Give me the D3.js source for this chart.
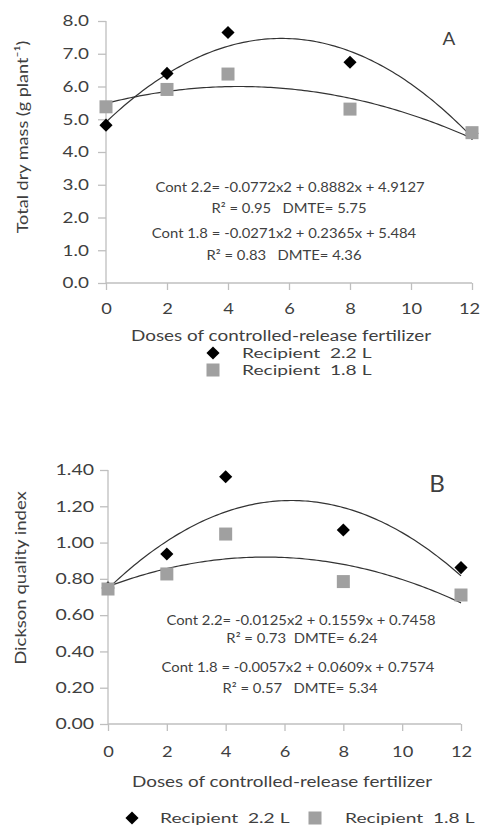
<!DOCTYPE html>
<html><head><meta charset="utf-8">
<script src="https://cdn.jsdelivr.net/npm/d3@7"></script>
<style>body{margin:0;background:#fff}svg{display:block}text{font-family:Lato,"Open Sans",sans-serif;fill:#3f3f3f;white-space:pre}</style>
</head><body>
<svg id="c" width="481" height="827"></svg>
<script>
const doses = [0, 2, 4, 8, 12];
const xTicks = [0, 2, 4, 6, 8, 10, 12];
// Panel A: total dry mass
const massRec22 = [4.82, 6.40, 7.65, 6.74, 4.57];
const massRec18 = [5.38, 5.91, 6.38, 5.31, 4.59];
const massTicks = [0, 1, 2, 3, 4, 5, 6, 7, 8];
const massCoef22 = [-0.0772, 0.8882, 4.9127];
const massCoef18 = [-0.0271, 0.2365, 5.484];
const massLabels = ["Cont 2.2= -0.0772x2 + 0.8882x + 4.9127", "R\u00b2 = 0.95   DMTE= 5.75",
                    "Cont 1.8 = -0.0271x2 + 0.2365x + 5.484", "R\u00b2 = 0.83   DMTE= 4.36"];
// Panel B: Dickson quality index
const dqiRec22 = [0.75, 0.937, 1.363, 1.069, 0.862];
const dqiRec18 = [0.744, 0.827, 1.047, 0.785, 0.711];
const dqiTicks = [0, 0.2, 0.4, 0.6, 0.8, 1.0, 1.2, 1.4];
const dqiCoef22 = [-0.0125, 0.1559, 0.7458];
const dqiCoef18 = [-0.0057, 0.0609, 0.7574];
const dqiLabels = ["Cont 2.2= -0.0125x2 + 0.1559x + 0.7458", "R\u00b2 = 0.73  DMTE= 6.24",
                   "Cont 1.8 = -0.0057x2 + 0.0609x + 0.7574", "R\u00b2 = 0.57   DMTE= 5.34"];
const seriesNames = ["Recipient  2.2 L", "Recipient  1.8 L"];

const svg = d3.select("#c");
const AX = "#bfbfbf", CURVE = "#333", GRAY = "#a0a0a0";
const diamond = d3.symbol().type(d3.symbolDiamond2 || d3.symbolDiamond).size(110);

function txt(g, x, y, s, size, sx, anchor, rot) {
  return g.append("text")
    .attr("transform", `translate(${x},${y})${rot ? " rotate(-90)" : ""} scale(${sx},1)`)
    .attr("text-anchor", anchor || "middle").style("font-size", size + "px").text(s);
}

function panel(o) {
  const x = d3.scaleLinear().domain([0, 12]).range([o.x0, o.x1]);
  const y = d3.scaleLinear().domain([0, o.ymax]).range([o.y0, o.y1]);
  const g = svg.append("g");
  // y axis
  const ya = g.append("g").attr("transform", `translate(${o.x0},0)`)
    .call(d3.axisLeft(y).tickValues(o.yTicks).tickFormat(d3.format(o.fmt)).tickSize(8));
  ya.selectAll("path,line").attr("stroke", AX).attr("stroke-width", 1.3);
  ya.select(".domain").attr("d", `M-0,${o.y0}V${o.y1}`);
  ya.selectAll("text").attr("x", 0).attr("transform", `translate(${-o.ypad},0) scale(${o.ysx},1)`)
    .style("font-size", "15px").attr("fill", "#3f3f3f").style("font-family", "Lato,sans-serif");
  // x axis
  const xa = g.append("g").attr("transform", `translate(0,${o.y0})`)
    .call(d3.axisBottom(x).tickValues(xTicks).tickFormat(d3.format("d")).tickSize(7).tickPadding(o.xpad));
  xa.selectAll("path,line").attr("stroke", AX).attr("stroke-width", 1.3);
  xa.select(".domain").attr("d", `M${o.x0},0H${o.x1}`);
  xa.selectAll("text").attr("transform", (d, i, n) => `translate(${i === n.length - 1 ? o.lastShift : 0},0) scale(1.22,1)`)
    .style("font-size", "15px").attr("fill", "#3f3f3f").style("font-family", "Lato,sans-serif");
  // trend curves from the fitted equations
  const line = d3.line().x(d => x(d[0])).y(d => y(d[1]));
  [o.c22, o.c18].forEach(c => {
    const pts = d3.range(0, 12.001, 0.1).map(t => [t, c[0] * t * t + c[1] * t + c[2]]);
    g.append("path").attr("d", line(pts)).attr("fill", "none").attr("stroke", CURVE).attr("stroke-width", 1.2);
  });
  // points
  g.selectAll(".d").data(o.s22).join("path").attr("d", diamond)
    .attr("transform", (d, i) => `translate(${x(doses[i])},${y(d)})`).attr("fill", "#000");
  g.selectAll(".s").data(o.s18).join("rect")
    .attr("x", (d, i) => x(doses[i]) - 6.5).attr("y", d => y(d) - 6.5)
    .attr("width", 13).attr("height", 13).attr("fill", GRAY);
  // labels
  o.labels.forEach((t, i) => txt(g, o.lx[i], o.ly[i], t, 14, 1.06));
  txt(g, o.letter[0], o.letter[1], o.letterText, o.letter[2], 1.05).attr("fill", "#222");
  txt(g, o.ytx, o.yty, o.ytitle, 16, o.ytsx, "middle", true);
  txt(g, o.xtx, o.xty, "Doses of controlled-release fertilizer", 16, 1.18);
  return g;
}

panel({x0: 106, x1: 472, y0: 283, y1: 21, ymax: 8, yTicks: massTicks, fmt: ".1f", ypad: 17, ysx: 1.26, xpad: 13, lastShift: -3,
  c22: massCoef22, c18: massCoef18, s22: massRec22, s18: massRec18, labels: massLabels,
  lx: [290, 289, 284, 284], ly: [192, 213, 238, 260], letter: [449, 45, 18], letterText: "A",
  ytx: 28, yty: 137, ytsx: 1.13, ytitle: "Total dry mass (g plant\u207b\u00b9)", xtx: 281, xty: 341});

panel({x0: 108, x1: 461, y0: 724, y1: 470, ymax: 1.4, yTicks: dqiTicks, fmt: ".2f", ypad: 14, ysx: 1.3, xpad: 15, lastShift: 0,
  c22: dqiCoef22, c18: dqiCoef18, s22: dqiRec22, s18: dqiRec18, labels: dqiLabels,
  lx: [301, 302, 298, 300], ly: [625, 643, 672, 693], letter: [437, 492, 23], letterText: "B",
  ytx: 26, yty: 578, ytsx: 1.16, ytitle: "Dickson quality index", xtx: 282, xty: 787});

// legends
function legend(items) {
  items.forEach(it => {
    if (it.k === 0) svg.append("path").attr("d", diamond).attr("transform", `translate(${it.sx},${it.sy})`).attr("fill", "#000");
    else svg.append("rect").attr("x", it.sx - 6.5).attr("y", it.sy - 6.5).attr("width", 13).attr("height", 13).attr("fill", GRAY);
    txt(svg, it.tx, it.sy + 5, seriesNames[it.k], 14, 1.37, "start");
  });
}
legend([{k: 0, sx: 213, sy: 353, tx: 242}, {k: 1, sx: 213, sy: 370, tx: 242}]);
legend([{k: 0, sx: 132, sy: 818, tx: 160}, {k: 1, sx: 315, sy: 818, tx: 345}]);
</script>
</body></html>
